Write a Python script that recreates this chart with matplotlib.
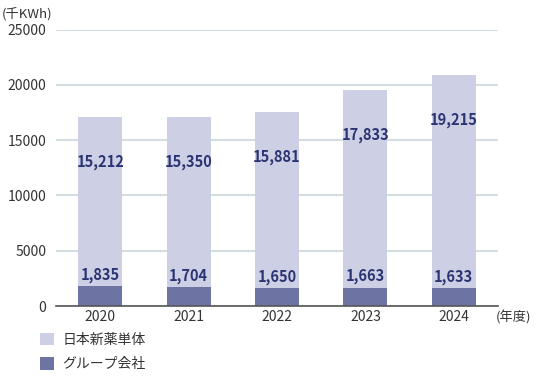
import numpy as np
import matplotlib.pyplot as plt

plt.rcParams['font.family'] = ['Noto Sans CJK JP', 'DejaVu Sans']

# data
years = ['2020', '2021', '2022', '2023', '2024']
group = [1835, 1704, 1650, 1663, 1633]      # グループ会社
nippon = [15212, 15350, 15881, 17833, 19215]  # 日本新薬単体

light = '#cdd0e4'
dark = '#6d74a4'
navy = '#2b3472'
text_col = '#333333'

fig = plt.figure(figsize=(5.5, 3.8), dpi=100)
ax = fig.add_axes([56 / 550, 1 - 306 / 380, 442 / 550, 276.5 / 380])

x = np.arange(len(years))
b1 = ax.bar(x, group, width=0.5, color=dark, label='グループ会社', zorder=3)
b2 = ax.bar(x, nippon, width=0.5, bottom=group, color=light, label='日本新薬単体', zorder=3)

ax.set_xlim(-0.5, 4.5)
ax.set_ylim(0, 25000)
ax.set_yticks(np.arange(0, 25001, 5000))
ax.set_xticks(x)
ax.set_xticklabels(years)

ax.grid(axis='y', color='#d3dde2', linewidth=1.5, zorder=0)
for s in ['top', 'right', 'left']:
    ax.spines[s].set_visible(False)
ax.spines['bottom'].set_color('#555555')
ax.spines['bottom'].set_linewidth(1.2)
ax.spines['bottom'].set_zorder(4)
ax.tick_params(length=0, labelsize=10, colors=text_col)
ax.tick_params(axis='y', pad=7)
ax.tick_params(axis='x', pad=3)

# value labels
for i in range(len(years)):
    total = group[i] + nippon[i]
    ax.annotate(f'{group[i]:,}', (x[i], group[i]), xytext=(0, 8), textcoords='offset points',
                ha='center', va='center', color=navy, fontsize=10.5, fontweight='bold', zorder=5)
    ax.annotate(f'{nippon[i]:,}', (x[i], total), xytext=(0, -32), textcoords='offset points',
                ha='center', va='center', color=navy, fontsize=10.5, fontweight='bold', zorder=5)

fig.text(2 / 550, 1 - 14 / 380, '(千KWh)', fontsize=9.5, color=text_col, va='center', ha='left')
fig.text(496 / 550, 1 - 317 / 380, '(年度)', fontsize=9.5, color=text_col, va='center', ha='left')

fig.legend(handles=[b2, b1], loc='upper left', bbox_to_anchor=(40 / 550, 1 - 333 / 380),
           frameon=False, handlelength=1.0, handleheight=1.0, handletextpad=0.6,
           labelspacing=0.75, fontsize=10, labelcolor=text_col, borderaxespad=0,
           borderpad=0)

fig.savefig('out.png', dpi=100)
